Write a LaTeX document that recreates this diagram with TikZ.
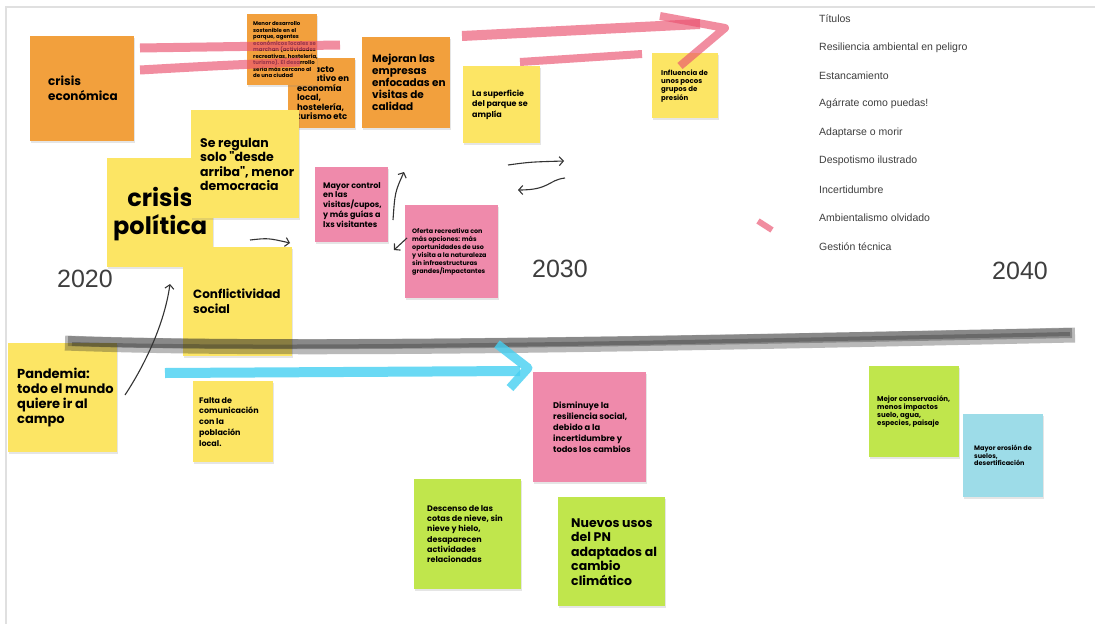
\documentclass[tikz,border=0pt]{standalone}
\usepackage{fontspec}
\setmainfont{Liberation Sans}
\newfontfamily\notefont{Poppins}
\usetikzlibrary{arrows.meta,positioning,shadows}
\definecolor{postOrange}{HTML}{F2A03D}
\definecolor{postYellow}{HTML}{FCE564}
\definecolor{postPink}{HTML}{EF8AAB}
\definecolor{postGreen}{HTML}{C0E64C}
\definecolor{postBlue}{HTML}{9DDCE8}
\definecolor{markPink}{HTML}{EA5270}
\definecolor{markBlue}{HTML}{45D0F2}
\definecolor{inkGray}{HTML}{3E3E3E}
\tikzset{
  sticky/.style n args={3}{rectangle, anchor=north west, inner sep=0pt, fill=#1,
    minimum width=#2, minimum height=#3,
    drop shadow={opacity=.2, shadow xshift=.5pt, shadow yshift=-1.3pt}},
  stickytext/.style 2 args={align=left, inner sep=0pt, text=black,
    font=\notefont\bfseries\fontsize{#1pt}{#2pt}\selectfont},
  year/.style={text=inkGray, font=\fontsize{25pt}{30pt}\selectfont},
  titleitem/.style={anchor=west, inner sep=0pt, text=inkGray, font=\fontsize{10.5pt}{12pt}\selectfont},
  frame/.style={draw=black!12, line width=2.5},
  pinkmark/.style={draw=markPink, draw opacity=.66, line width=#1, line join=round},
  graymark/.style={draw=black!85, draw opacity=.32, line width=#1, line join=round},
  bluemark/.style={draw=markBlue, draw opacity=.8, line width=#1, line join=round},
  hand/.style={draw=black!80, line width=1.1, -{Straight Barb[length=4pt,width=9pt]}}
}
\begin{document}
\begin{tikzpicture}[x=1pt,y=-1pt]
  \useasboundingbox (0,0) rectangle (1095,624);
  \fill[white] (0,0) rectangle (1095,624);
  \draw[frame] (6,624) -- (6,7) -- (1095,7);

  \node[sticky={postOrange}{104}{105}] (crisisEco) at (30,36) {};
  \node[stickytext={12}{15}, right=18pt of crisisEco.west] (crisisEcoTxt) {crisis\\económica};

  \node[sticky={postOrange}{67}{70}] (impacto) at (288,58) {};
  \node[stickytext={8.5}{9.5}, right=9pt of impacto.west] (impactoTxt) {Impacto\\negativo en\\economía\\local,\\hostelería,\\turismo etc};

  \node[sticky={postOrange}{70}{71}] (menorDes) at (247,14) {};
  \node[stickytext={5.4}{6.5}, right=6pt of menorDes.west] (menorDesTxt) {Menor desarrollo\\sostenible en el\\parque, agentes\\económicos locales se\\marchan (actividades\\recreativas, hostelería,\\turismo). El desarrollo\\sería más cercano al\\de una ciudad};

  \node[sticky={postOrange}{88}{91}] (mejoran) at (362,37) {};
  \node[stickytext={10.5}{12}, right=10pt of mejoran.west] (mejoranTxt) {Mejoran las\\empresas\\enfocadas en\\visitas de\\calidad};

  \node[sticky={postYellow}{77}{77}] (superficie) at (463,66) {};
  \node[stickytext={8}{10.5}, right=9pt of superficie.west] (superficieTxt) {La superficie\\del parque se\\amplía};

  \node[sticky={postYellow}{66}{65}] (influencia) at (652,53) {};
  \node[stickytext={7}{8.3}, right=9pt of influencia.west] (influenciaTxt) {Influencia de\\unos pocos\\grupos de\\presión};

  \node[sticky={postYellow}{106}{109}] (crisisPol) at (107,158) {};
  \node[stickytext={24}{28}, align=center] (crisisPolTxt) at ([yshift=-1pt]crisisPol.center) {crisis\\política};

  \node[sticky={postYellow}{108}{108}] (seRegulan) at (191,110) {};
  \node[stickytext={12.5}{14.5}, right=9pt of seRegulan.west] (seRegulanTxt) {Se regulan\\solo "desde\\arriba", menor\\democracia};

  \node[sticky={postYellow}{109}{109}] (conflict) at (183,247) {};
  \node[stickytext={12}{15}, right=10pt of conflict.west] (conflictTxt) {Conflictividad\\social};

  \node[sticky={postPink}{73}{75}] (mayorControl) at (315,167) {};
  \node[stickytext={8}{9.8}, right=8pt of mayorControl.west] (mayorControlTxt) {Mayor control\\en las\\visitas/cupos,\\y más guías a\\lxs visitantes};

  \node[sticky={postPink}{93}{93}] (oferta) at (405,205) {};
  \node[stickytext={6.4}{8}, right=7pt of oferta.west] (ofertaTxt) {Oferta recreativa con\\más opciones: más\\oportunidades de uso\\y visita a la naturaleza\\sin infraestructuras\\grandes/impactantes};

  \node[sticky={postYellow}{109}{109}] (pandemia) at (8,343) {};
  \node[stickytext={13}{15}, right=9pt of pandemia.west] (pandemiaTxt) {Pandemia:\\todo el mundo\\quiere ir al\\campo};

  \node[sticky={postYellow}{80}{81}] (falta) at (193,381) {};
  \node[stickytext={8}{10.7}, right=6pt of falta.west] (faltaTxt) {Falta de\\comunicación\\con la\\población\\local.};

  \node[sticky={postPink}{113}{110}] (disminuye) at (533,372) {};
  \node[stickytext={8.3}{11}, right=20pt of disminuye.west] (disminuyeTxt) {Disminuye la\\resiliencia social,\\debido a la\\incertidumbre y\\todos los cambios};

  \node[sticky={postGreen}{107}{110}] (descenso) at (414,479) {};
  \node[stickytext={8}{10.3}, right=13pt of descenso.west] (descensoTxt) {Descenso de las\\cotas de nieve, sin\\nieve y hielo,\\desaparecen\\actividades\\relacionadas};

  \node[sticky={postGreen}{107}{109}] (nuevosUsos) at (558,497) {};
  \node[stickytext={12.5}{14.5}, right=13pt of nuevosUsos.west] (nuevosUsosTxt) {Nuevos usos\\del PN\\adaptados al\\cambio\\climático};

  \node[sticky={postGreen}{90}{91}] (mejorCons) at (869,366) {};
  \node[stickytext={7}{8.2}, right=8pt of mejorCons.west] (mejorConsTxt) {Mejor conservación,\\menos impactos\\suelo, agua,\\especies, paisaje};

  \node[sticky={postBlue}{80}{83}] (mayorErosion) at (963,414) {};
  \node[stickytext={6.5}{7.5}, right=11pt of mayorErosion.west] (mayorErosionTxt) {Mayor erosión de\\suelos,\\desertificación};

  \node[year] (y2020) at (85,279) {2020};
  \node[year] (y2030) at (560,269) {2030};
  \node[year] (y2040) at (1020,271) {2040};

  \foreach \t [count=\i] in {Títulos, Resiliencia ambiental en peligro, Estancamiento,
      Agárrate como puedas!, Adaptarse o morir, Despotismo ilustrado, Incertidumbre,
      Ambientalismo olvidado, Gestión técnica}
    \node[titleitem] (titulo\i) at (819,{19+28.4*(\i-1)}) {\t};

  \draw[pinkmark=9] (140,48) -- (340,45);
  \draw[pinkmark=9] (140,70) .. controls (210,66) .. (300,62);
  \draw[pinkmark=10] (462,36) -- (700,24);
  \draw[pinkmark=8] (660,16) -- (725,28) -- (680,66);
  \draw[pinkmark=8] (520,62) -- (642,54);
  \draw[pinkmark=6] (758,221) -- (772,230);

  \draw[graymark=15] (65,343) .. controls (300,352) and (700,343) .. (1075,335);
  \draw[graymark=10] (68,341) .. controls (300,349) and (700,340) .. (1072,333);
  \draw[graymark=4] (72,344) .. controls (300,351) and (700,342) .. (1070,334);

  \draw[bluemark=10] (165,373) -- (520,371);
  \draw[bluemark=9] (497,344) -- (528,368) -- (510,388);

  \coordinate (pandOut) at (125,395);
  \coordinate (pandIn) at (170,284);
  \coordinate (polOut) at (250,240);
  \coordinate (polIn) at (290,243);
  \coordinate (ctrlOut) at (393,220);
  \coordinate (ctrlIn) at (404,172);
  \coordinate (ofOut) at (407,238);
  \coordinate (ofIn) at (394,250);
  \coordinate (loopA) at (508,165);
  \coordinate (loopB) at (564,161);
  \coordinate (loopC) at (565,178);
  \coordinate (loopD) at (518,190);
  \draw[hand] (pandOut) .. controls (148,360) and (165,320) .. (pandIn);
  \draw[hand] (polOut) .. controls (268,238) .. (polIn);
  \draw[hand] (ctrlOut) .. controls (395,192) .. (ctrlIn);
  \draw[hand] (ofOut) -- (ofIn);
  \draw[hand] (loopA) .. controls (530,162) .. (loopB);
  \draw[hand] (loopC) .. controls (548,180) and (550,190) .. (loopD);
\end{tikzpicture}
\end{document}
